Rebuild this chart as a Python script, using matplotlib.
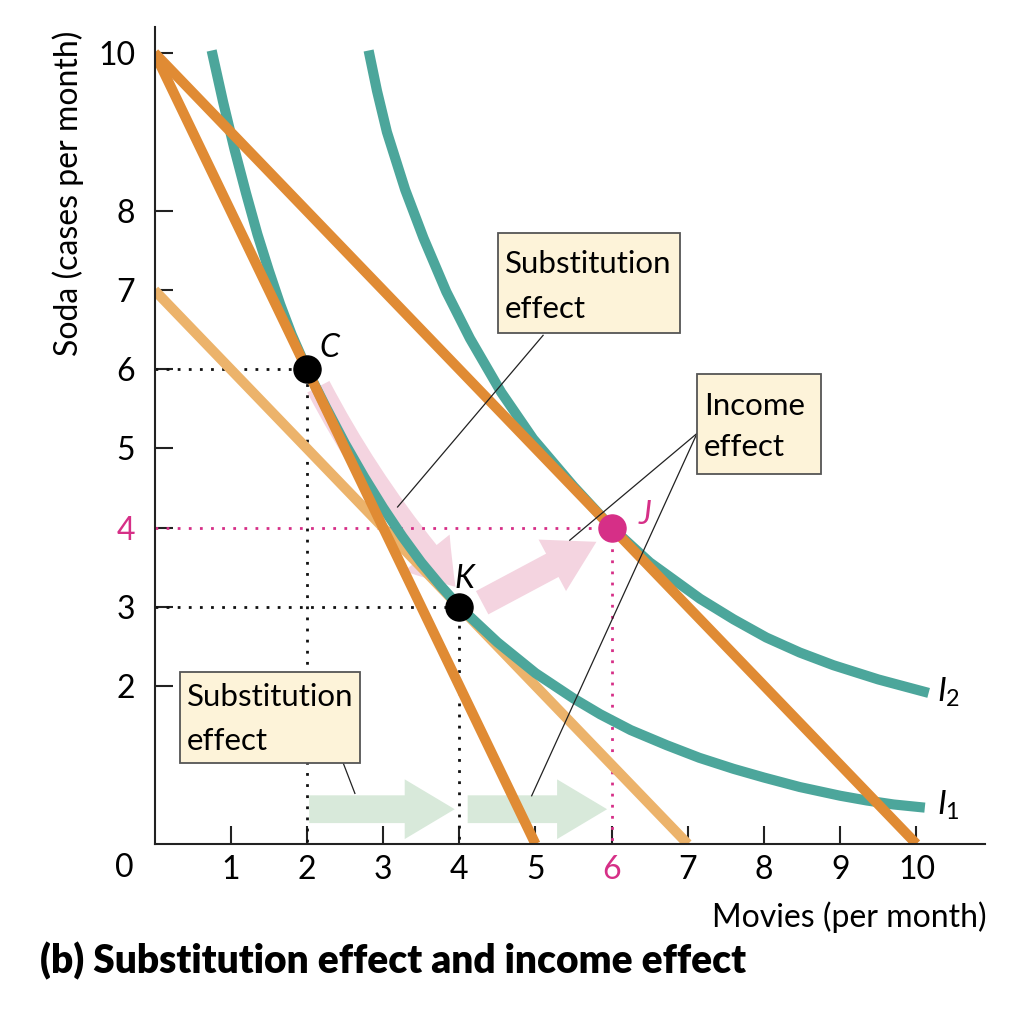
import matplotlib
matplotlib.use('Agg')
import matplotlib.pyplot as plt
from matplotlib.patches import FancyArrowPatch, Rectangle

plt.rcParams['font.family'] = ['Lato', 'DejaVu Sans']
plt.rcParams['mathtext.fontset'] = 'custom'
plt.rcParams['mathtext.it'] = 'Lato:italic'
plt.rcParams['mathtext.rm'] = 'Lato'

# budget lines (movies, soda)
budget_old_x = [0, 5]
budget_old_y = [10, 0]
budget_new_x = [0, 10]
budget_new_y = [10, 0]
budget_hyp_x = [0, 7]
budget_hyp_y = [7, 0]

# indifference curves
i1_x = [0.75, 0.9, 1.05, 1.2, 1.35, 1.5, 1.65, 1.8, 2.0, 2.25, 2.5, 2.75, 3.0,
        3.25, 3.5, 3.75, 4.0, 4.5, 5.0, 5.5, 5.85, 6.25, 6.72, 7.15, 7.6, 8.0,
        8.47, 9.0, 9.35, 9.7, 10.11]
i1_y = [10.03, 9.38, 8.78, 8.23, 7.71, 7.25, 6.82, 6.44, 6.0, 5.52, 5.06, 4.64, 4.25,
        3.89, 3.56, 3.27, 3.0, 2.55, 2.16, 1.84, 1.64, 1.44, 1.25, 1.09, 0.95, 0.84,
        0.72, 0.61, 0.55, 0.50, 0.46]
i2_x = [2.81, 2.92, 3.05, 3.29, 3.53, 3.83, 4.14, 4.55, 4.97, 5.5, 6.0, 6.5, 7.16,
        7.6, 8.03, 8.47, 8.91, 9.5, 10.16]
i2_y = [10.03, 9.52, 9.00, 8.27, 7.66, 6.98, 6.39, 5.71, 5.12, 4.52, 4.0, 3.56, 3.10,
        2.84, 2.61, 2.42, 2.26, 2.08, 1.91]

# points C, K, J
point_c = (2, 6)
point_k = (4, 3)
point_j = (6, 4)

x_ticks = [1, 2, 3, 4, 5, 6, 7, 8, 9, 10]
y_ticks = [2, 3, 4, 5, 6, 7, 8, 10]

teal = '#4ca69b'
orange = '#e08b34'
light_orange = '#ecb36b'
magenta = '#d62f87'
pink = '#f4d4e0'
green = '#d8e9da'
box_fill = '#fdf3d9'

fig = plt.figure(figsize=(10.28, 10.18), dpi=100)
ax = fig.add_axes([0.1503, 0.1709, 0.8079, 0.8028])
ax.set_xlim(0, 10.9)
ax.set_ylim(0, 10.33)
ax.spines['top'].set_visible(False)
ax.spines['right'].set_visible(False)
for s in ['left', 'bottom']:
    ax.spines[s].set_linewidth(1.5)
    ax.spines[s].set_color('#222222')

ax.set_xticks(x_ticks)
ax.set_yticks(y_ticks)
ax.set_xticklabels([str(v) for v in x_ticks])
ax.set_yticklabels([str(v) for v in y_ticks])
ax.tick_params(direction='in', length=13, width=1.5, labelsize=23, color='#222222')
ax.tick_params(axis='x', pad=8)
ax.tick_params(axis='y', pad=14)
for lab in ax.get_xticklabels():
    if lab.get_text() == '6':
        lab.set_color(magenta)
for lab in ax.get_yticklabels():
    if lab.get_text() == '4':
        lab.set_color(magenta)
ax.text(-0.39, -0.30, '0', fontsize=23, ha='center', va='center', clip_on=False)

# dotted guides
dot = (0, (1, 3))
ax.plot([0, point_c[0], point_c[0]], [point_c[1], point_c[1], 0], color='#111111', lw=2.0,
        linestyle=dot, zorder=1.8)
ax.plot([0, point_k[0], point_k[0]], [point_k[1], point_k[1], 0], color='#111111', lw=2.0,
        linestyle=dot, zorder=1.8)
ax.plot([0, point_j[0], point_j[0]], [point_j[1], point_j[1], 0], color=magenta, lw=2.0,
        linestyle=dot, zorder=1.8)

# effect arrows
def block_arrow(p0, p1, tail, head_w, head_l, color, rad=0.0):
    style = f'simple,head_length={head_l},head_width={head_w},tail_width={tail}'
    arr = FancyArrowPatch(p0, p1, arrowstyle=style, color=color, lw=0,
                          shrinkA=0, shrinkB=0, mutation_scale=1,
                          connectionstyle=f'arc3,rad={rad}', zorder=1.2)
    ax.add_patch(arr)

block_arrow((2.03, 0.44), (3.94, 0.44), 20, 43, 36, green)
block_arrow((4.11, 0.44), (5.94, 0.44), 20, 43, 36, green)
block_arrow((2.15, 5.78), (3.95, 3.25), 18, 42, 32, pink, rad=0.06)
block_arrow((4.30, 3.05), (5.80, 3.82), 19, 42, 36, pink)

# lines and curves
line_kw = dict(lw=7.3, solid_capstyle='butt', solid_joinstyle='round')
ax.plot(budget_hyp_x, budget_hyp_y, color=light_orange, zorder=2, **line_kw)
ax.plot(i1_x, i1_y, color=teal, zorder=2.2, **line_kw)
ax.plot(i2_x, i2_y, color=teal, zorder=2.2, **line_kw)
ax.plot(budget_old_x, budget_old_y, color=orange, zorder=2.4, **line_kw)
ax.plot(budget_new_x, budget_new_y, color=orange, zorder=2.4, **line_kw)

ax.plot(*point_c, 'o', color='black', ms=19.5, zorder=4)
ax.plot(*point_k, 'o', color='black', ms=19.5, zorder=4)
ax.plot(*point_j, 'o', color=magenta, ms=19.5, zorder=4)
ax.text(2.29, 6.27, 'C', fontsize=23, style='italic', ha='center', va='center')
ax.text(4.06, 3.35, 'K', fontsize=23, style='italic', ha='center', va='center')
ax.text(6.44, 4.16, 'J', fontsize=23, style='italic', color=magenta, ha='center', va='center')
ax.text(10.27, 1.92, r'$I_2$', fontsize=24, ha='left', va='center', clip_on=False)
ax.text(10.27, 0.49, r'$I_1$', fontsize=24, ha='left', va='center', clip_on=False)

# label boxes with pointer lines
def label_box(x0, y0, x1, y1, lines, tx, baselines):
    ax.add_patch(Rectangle((x0, y1), x1 - x0, y0 - y1, facecolor=box_fill,
                           edgecolor='#555555', lw=1.3, zorder=5))
    for txt, by in zip(lines, baselines):
        ax.text(tx, by, txt, fontsize=22.5, ha='left', va='baseline', zorder=6)

label_box(4.51, 7.72, 6.90, 6.46, ['Substitution', 'effect'], 4.60, [7.22, 6.65])
label_box(7.12, 5.94, 8.75, 4.68, ['Income', 'effect'], 7.21, [5.42, 4.90])
label_box(0.33, 2.17, 2.70, 1.03, ['Substitution', 'effect'], 0.42, [1.74, 1.19])

pointer = dict(color='#222222', lw=0.9, zorder=4.5)
ax.plot([5.10, 3.19], [6.43, 4.26], **pointer)
ax.plot([7.12, 5.45], [5.19, 3.84], **pointer)
ax.plot([7.12, 4.95], [5.19, 0.61], **pointer)
ax.plot([2.47, 2.63], [1.04, 0.64], **pointer)

# axis titles
ax.text(-0.104, 0.796, 'Soda (cases per month)', transform=ax.transAxes, rotation=90,
        fontsize=23, ha='center', va='center')
ax.text(1.0024, -0.089, 'Movies (per month)', transform=ax.transAxes,
        fontsize=23, ha='right', va='center')
fig.text(40 / 1028, 1 - 961 / 1018, '(b) Substitution effect and income effect',
         fontsize=28, fontweight='heavy', ha='left', va='center')

fig.savefig('out.png', dpi=100)
plt.close(fig)
